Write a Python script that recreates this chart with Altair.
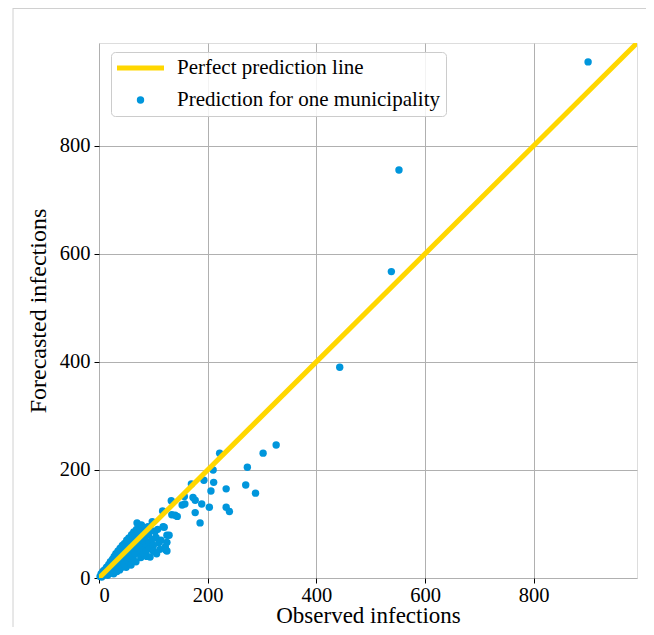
import altair as alt
import pandas as pd

# ---- data ----
observed = [2, 4, 5, 7, 8, 10, 10, 12, 14, 15, 16, 18, 18, 20, 21, 22, 24, 25, 26, 27,
            28, 29, 30, 31, 32, 33, 34, 35, 36, 37, 38, 39, 40, 41, 42, 43, 44, 45, 46, 47,
            48, 49, 50, 51, 52, 53, 54, 55, 56, 57, 58, 59, 60, 61, 62, 63, 64, 65, 66, 67,
            68, 69, 70, 70, 71, 72, 73, 74, 75, 76, 77, 78, 79, 80, 81, 82, 84, 85, 86, 87,
            88, 90, 91, 92, 93, 94, 96, 98, 98, 100, 100, 103, 105, 106, 108, 110, 112, 114,
            117, 118, 120, 122, 123, 125, 125, 125, 129, 133, 134, 140, 144, 153, 157, 158,
            170, 173, 177, 177, 186, 189, 193, 203, 206, 210, 211, 222, 234, 234, 240, 270,
            273, 288, 302, 326, 443, 538, 552, 900]
forecast = [3, 8, 2, 12, 5, 15, 6, 9, 20, 11, 5, 25, 14, 9, 30, 18, 12, 35, 22, 8,
            40, 27, 16, 45, 30, 12, 20, 50, 38, 25, 15, 55, 42, 30, 20, 60, 47, 35, 25, 64,
            50, 40, 20, 70, 55, 45, 30, 74, 60, 48, 35, 24, 80, 65, 52, 40, 85, 70, 55, 45,
            30, 90, 102, 75, 60, 48, 95, 80, 65, 52, 38, 98, 85, 70, 58, 45, 92, 75, 62, 50,
            40, 95, 80, 66, 55, 39, 88, 104, 72, 60, 50, 86, 75, 45, 90, 65, 53, 70,
            124, 95, 94, 58, 52, 66, 79, 50, 79, 143, 117, 116, 114, 135, 151, 137,
            174, 149, 144, 121, 102, 137, 181, 131, 161, 200, 177, 231, 165, 131, 123, 172,
            205, 157, 231, 246, 390, 567, 755, 955]
line_x = [0, 990]
line_y = [0, 990]
legend_labels = ["Perfect prediction line", "Prediction for one municipality"]
ticks = [0, 200, 400, 600, 800]

FONT = "Liberation Serif"
GOLD = "#FFD700"
BLUE = "#0096DC"

pts = pd.DataFrame({"observed": observed, "forecast": forecast,
                    "series": [legend_labels[1]] * len(observed)})
line_df = pd.DataFrame({"observed": line_x, "forecast": line_y})
frame_df = pd.DataFrame({"k": [0]})

xs = alt.Scale(domain=[0, 990], nice=False, zero=False)
ys = alt.Scale(domain=[0, 990], nice=False, zero=False)

common_axis = dict(values=ticks, grid=True, gridColor="#b0b0b0", gridWidth=1,
                   tickColor="black", tickSize=5, tickWidth=1, domain=False,
                   labelFont=FONT, labelFontSize=20.5, labelColor="black",
                   titleFont=FONT, titleFontWeight="normal", titleColor="black")

x_enc = alt.X("observed:Q", scale=xs,
              axis=alt.Axis(title="Observed infections", titleY=44, titleFontSize=23,
                            titleBaseline="alphabetic", labelPadding=2, **common_axis))
y_enc = alt.Y("forecast:Q", scale=ys,
              axis=alt.Axis(title="Forecasted infections", titlePadding=9, titleFontSize=24,
                            labelPadding=4, **common_axis))

is_line = "datum.value === 'Perfect prediction line'"
legend = alt.Legend(
    title=None, orient="none", legendX=12, legendY=9,
    fillColor="rgba(255,255,255,0.85)", strokeColor="#cccccc", cornerRadius=4,
    padding=5, rowPadding=10, clipHeight=22, labelLimit=0,
    labelFont=FONT, labelFontSize=21, labelColor="black",
    symbolOffset=14, labelOffset=26, symbolOpacity=1,
    symbolType=alt.ExprRef(expr=f"{is_line} ? 'stroke' : 'circle'"),
    symbolSize=alt.ExprRef(expr=f"{is_line} ? 2209 : 55"),
    symbolStrokeWidth=alt.ExprRef(expr=f"{is_line} ? 5 : 0"),
    symbolStrokeColor=alt.ExprRef(expr=f"{is_line} ? '{GOLD}' : 'transparent'"),
    symbolFillColor=alt.ExprRef(expr=f"{is_line} ? 'transparent' : '{BLUE}'"),
)

points = alt.Chart(pts).mark_circle(size=55, opacity=1).encode(
    x=x_enc, y=y_enc,
    color=alt.Color("series:N",
                    scale=alt.Scale(domain=legend_labels, range=[GOLD, BLUE]),
                    legend=legend),
)

perfect = alt.Chart(line_df).mark_line(color=GOLD, strokeWidth=5, clip=True).encode(
    x=alt.X("observed:Q", scale=xs),
    y=alt.Y("forecast:Q", scale=ys),
)

frame_left = alt.Chart(frame_df).mark_rule(color="#d0d0d0", strokeWidth=1, clip=False).encode(
    x=alt.value(-86), y=alt.value(-35), y2=alt.value(600))
frame_top = alt.Chart(frame_df).mark_rule(color="#d0d0d0", strokeWidth=1, clip=False).encode(
    x=alt.value(-86), x2=alt.value(560), y=alt.value(-34.5))

chart = alt.layer(frame_left, frame_top, points, perfect).properties(
    width=538, height=535,
    autosize=alt.AutoSizeParams(type="none"),
    padding={"left": 91, "top": 35, "right": 9, "bottom": 49},
).configure_view(stroke="black", strokeWidth=1.25).configure(background="white")

chart.save("out.html", embed_options={"renderer": "svg", "actions": False})
